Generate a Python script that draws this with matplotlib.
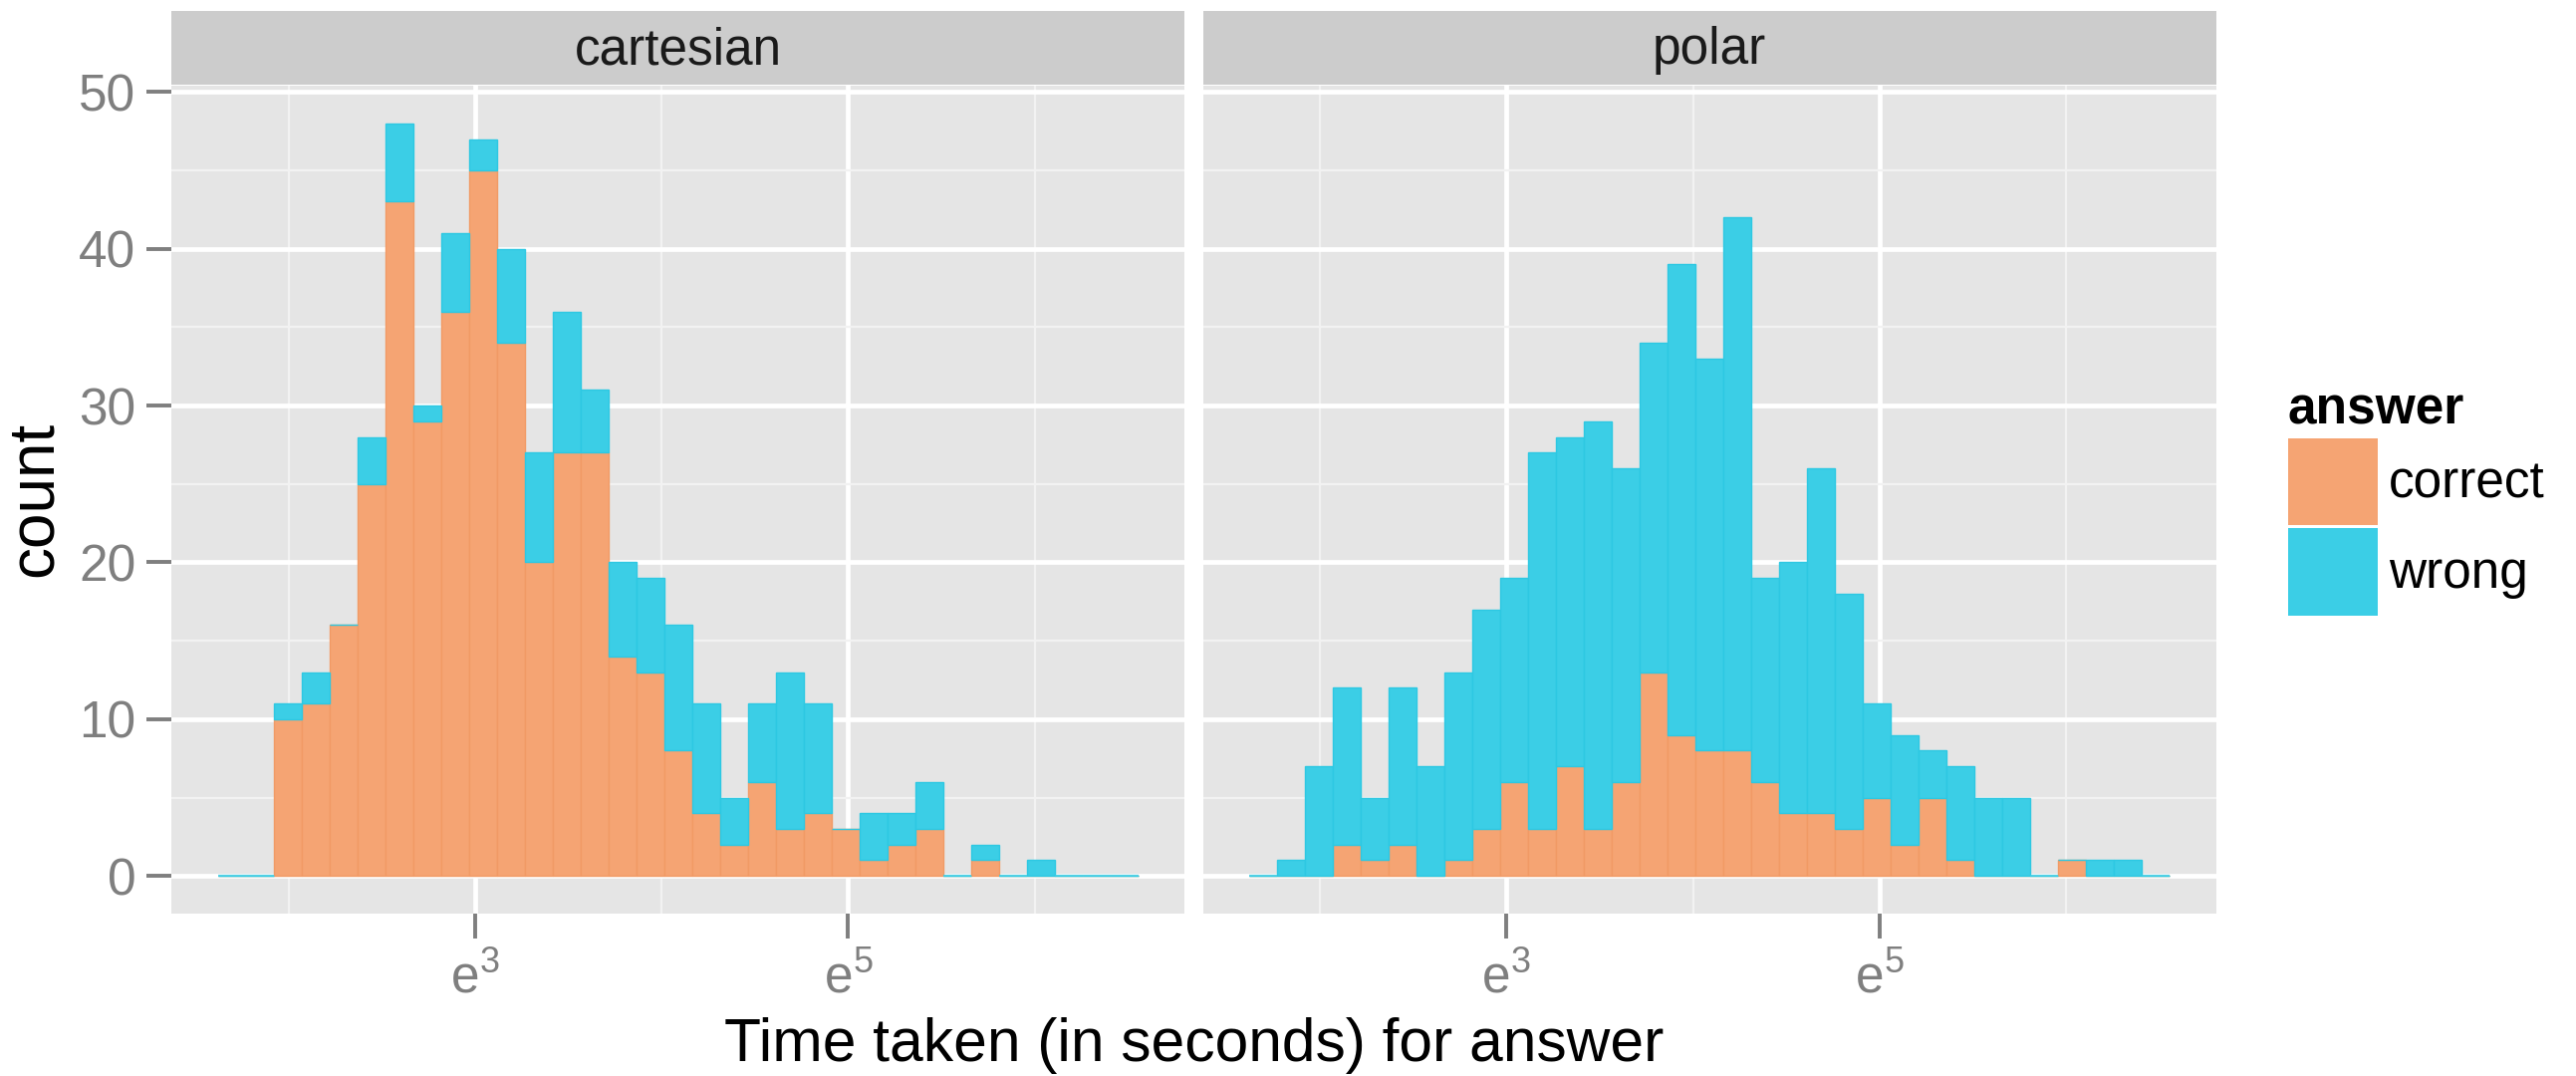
import numpy as np
import matplotlib
matplotlib.use("Agg")
import matplotlib.pyplot as plt
from matplotlib.patches import Patch
from matplotlib.ticker import FixedLocator, NullFormatter

plt.rcParams['font.family'] = ['Liberation Sans', 'DejaVu Sans']
plt.rcParams['mathtext.fontset'] = 'custom'
plt.rcParams['mathtext.rm'] = 'Liberation Sans'
plt.rcParams['mathtext.it'] = 'Liberation Sans'

# ---- data (histogram of log time, 33 bins) ----
log_start = 1.621        # ln(seconds) of first bin edge
log_end = 6.557          # ln(seconds) of last bin edge
n_bins = 33

panels = ["cartesian", "polar"]
answers = ["correct", "wrong"]

cartesian_correct = [0, 0, 10, 11, 16, 25, 43, 29, 36, 45, 34, 20, 27, 27, 14, 13, 8,
                     4, 2, 6, 3, 4, 3, 1, 2, 3, 0, 1, 0, 0, 0, 0, 0]
cartesian_wrong = [0, 0, 1, 2, 0, 3, 5, 1, 5, 2, 6, 7, 9, 4, 6, 6, 8,
                   7, 3, 5, 10, 7, 0, 3, 2, 3, 0, 1, 0, 1, 0, 0, 0]
polar_correct = [0, 0, 0, 2, 1, 2, 0, 1, 3, 6, 3, 7, 3, 6, 13, 9, 8,
                 8, 6, 4, 4, 3, 5, 2, 5, 1, 0, 0, 0, 1, 0, 0, 0]
polar_wrong = [0, 1, 7, 10, 4, 10, 7, 12, 14, 13, 24, 21, 26, 20, 21, 30, 25,
               34, 13, 16, 22, 15, 6, 7, 3, 6, 5, 5, 0, 0, 1, 1, 0]

counts = {
    "cartesian": (cartesian_correct, cartesian_wrong),
    "polar": (polar_correct, polar_wrong),
}

x_major_exp = [3, 5]
x_minor_exp = [2, 4, 6]
y_ticks = [0, 10, 20, 30, 40, 50]
y_minor = [5, 15, 25, 35, 45]

xlabel = "Time taken (in seconds) for answer"
ylabel = "count"
legend_title = "answer"

# ---- styling ----
col_correct = "#F5A473"
col_correct_edge = "#F19A65"
col_wrong = "#3BCEE6"
col_wrong_edge = "#2DC8E2"
panel_bg = "#E5E5E5"
strip_bg = "#CCCCCC"
tick_col = "#7F7F7F"

W, H = 2586, 1080
fig = plt.figure(figsize=(W / 100, H / 100), dpi=100)

edges = np.exp(np.linspace(log_start, log_end, n_bins + 1))
lefts = edges[:-1]
widths = np.diff(edges)

pan_x = [172.3, 1207.7]
pan_w = 1017.0
pan_top, pan_bot = 86.0, 917.0
strip_top = 11.0

rng = log_end - log_start
xlim = (np.exp(log_start - 0.05 * rng), np.exp(log_end + 0.05 * rng))

for i, name in enumerate(panels):
    ax = fig.add_axes([pan_x[i] / W, (H - pan_bot) / H, pan_w / W, (pan_bot - pan_top) / H])
    ax.set_facecolor(panel_bg)
    ax.set_xscale('log', base=np.e)
    corr, wrong = (np.array(v) for v in counts[name])
    ax.bar(lefts, corr, width=widths, align='edge', color=col_correct,
           edgecolor=col_correct_edge, linewidth=1.0, zorder=3)
    ax.bar(lefts, wrong, bottom=corr, width=widths, align='edge', color=col_wrong,
           edgecolor=col_wrong_edge, linewidth=1.0, zorder=3)
    # zero-count bins drawn as flat lines, like ggplot
    tot = corr + wrong
    for l, w, t in zip(lefts, widths, tot):
        if t == 0:
            ax.plot([l, l + w], [0, 0], color=col_wrong, lw=1.6, zorder=3,
                    solid_capstyle='butt', alpha=0.8)
    ax.set_xlim(*xlim)
    ax.set_ylim(-2.4, 50.4)
    ax.xaxis.set_major_locator(FixedLocator([np.exp(e) for e in x_major_exp]))
    ax.xaxis.set_minor_locator(FixedLocator([np.exp(e) for e in x_minor_exp]))
    ax.xaxis.set_minor_formatter(NullFormatter())
    ax.set_xticklabels([r"$\mathregular{e^{%d}}$" % e for e in x_major_exp])
    ax.yaxis.set_major_locator(FixedLocator(y_ticks))
    ax.yaxis.set_minor_locator(FixedLocator(y_minor))
    ax.grid(which='major', color='white', lw=3.4, zorder=1)
    ax.grid(which='minor', color='#F2F2F2', lw=1.6, zorder=1)
    ax.set_axisbelow(True)
    for s in ax.spines.values():
        s.set_visible(False)
    ax.tick_params(which='major', length=18, width=2.8, color=tick_col,
                   labelcolor=tick_col, labelsize=37, pad=8)
    ax.tick_params(axis='x', which='major', pad=11)
    ax.tick_params(which='minor', length=0)
    if i == 0:
        ax.set_yticklabels([str(v) for v in y_ticks])
    else:
        ax.tick_params(axis='y', which='major', length=0, labelleft=False)
    # strip
    sax = fig.add_axes([pan_x[i] / W, (H - pan_top + 1) / H, pan_w / W, (pan_top - 1 - strip_top) / H])
    sax.set_facecolor(strip_bg)
    sax.set_xticks([]); sax.set_yticks([])
    for s in sax.spines.values():
        s.set_visible(False)
    sax.text(0.5, 0.46, name, ha='center', va='center', fontsize=37, color='#1A1A1A',
             transform=sax.transAxes)

fig.text((pan_x[0] + pan_x[1] + pan_w) / 2 / W, 1 - 1050 / H, xlabel, ha='center', va='center',
         fontsize=43.6, color='black')
fig.text(35 / W, 1 - 501 / H, ylabel, ha='center', va='center', rotation=90,
         fontsize=46, color='black')

handles = [Patch(facecolor=col_correct, edgecolor='none'), Patch(facecolor=col_wrong, edgecolor='none')]
leg = fig.legend(handles, answers, title=legend_title, loc='upper left',
                 bbox_to_anchor=(2297 / W, 1 - 388 / H), frameon=False, fontsize=37,
                 title_fontproperties={'weight': 'bold', 'size': 37},
                 handlelength=1.75, handleheight=2.25, handletextpad=0.22,
                 labelspacing=0.05, borderpad=0, borderaxespad=0)
leg._legend_box.align = "left"

fig.savefig("out.png", dpi=100)
